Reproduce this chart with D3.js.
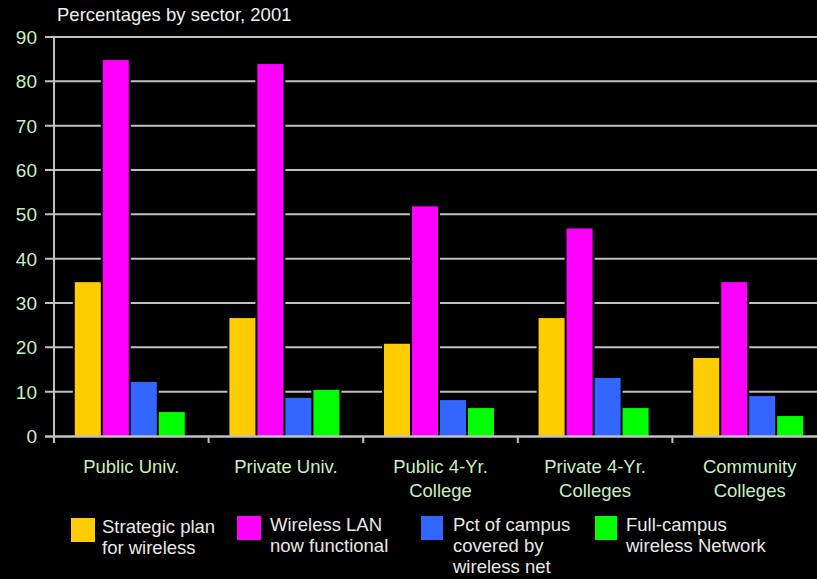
<!DOCTYPE html>
<html><head><meta charset="utf-8">
<script src="https://cdn.jsdelivr.net/npm/d3@7"></script>
<style>
html,body{margin:0;padding:0;background:#000;}
svg{display:block;font-family:"Liberation Sans",Arial,sans-serif;}
</style></head>
<body>
<script>
const categories = [["Public Univ."],["Private Univ."],["Public 4-Yr.","College"],["Private 4-Yr.","Colleges"],["Community","Colleges"]];
const seriesNames = [["Strategic plan","for wireless"],["Wireless LAN","now functional"],["Pct of campus","covered by","wireless net"],["Full-campus","wireless Network"]];
const seriesColors = ["#ffcc00","#ff00ff","#3366ff","#00ff00"];
const strategicPlan = [34.7, 26.6, 20.8, 26.6, 17.6];
const wirelessLAN   = [84.8, 83.9, 51.8, 46.8, 34.7];
const pctCovered    = [12.2, 8.6, 8.1, 13.1, 9.0];
const fullCampus    = [5.4, 10.4, 6.3, 6.3, 4.5];
const yTicks = [0,10,20,30,40,50,60,70,80,90];
const title = "Percentages by sector, 2001";

const values = [strategicPlan, wirelessLAN, pctCovered, fullCampus];
const W = 817, H = 579;
const svg = d3.select("body").append("svg").attr("width", W).attr("height", H);
svg.append("rect").attr("width", W).attr("height", H).attr("fill", "#000");

const catIdx = categories.map((d,i)=>i);
const x = d3.scaleBand().domain(catIdx).range([54, 54 + 5*154.6]);
const xs = d3.scaleBand().domain([0,1,2,3]).range([0,110]).paddingInner(1/14);
const y = d3.scaleLinear().domain([0,90]).range([436, 37]);

const grid = "#c0c0c0";
// gridlines
svg.append("g").selectAll("line").data(yTicks.filter(t=>t>0)).join("line")
  .attr("x1", 45).attr("x2", W).attr("y1", d=>y(d)).attr("y2", d=>y(d))
  .attr("stroke", grid).attr("stroke-width", 2);

// y labels
svg.append("g").selectAll("text").data(yTicks).join("text")
  .attr("x", 37).attr("y", d=>y(d)).attr("dy", "0.36em")
  .attr("text-anchor", "end").attr("fill", "#c8f0c0")
  .attr("font-size", 19).text(d=>d);

// bars
const groupOffset = (x.bandwidth() - 110)/2 - 1.5;
const barData = [];
values.forEach((arr, s) => arr.forEach((v, c) => barData.push({s, c, v})));
const bars = svg.append("g");
bars.selectAll("rect.halo").data(barData).join("rect").attr("class","halo")
  .attr("x", d => x(d.c) + groupOffset + xs(d.s) - 2)
  .attr("y", d => y(d.v) - 2)
  .attr("width", xs.bandwidth() + 4)
  .attr("height", d => y(0) - y(d.v) + 2)
  .attr("fill", "#000");
bars.selectAll("rect.bar").data(barData).join("rect").attr("class","bar")
  .attr("x", d => x(d.c) + groupOffset + xs(d.s))
  .attr("y", d => y(d.v))
  .attr("width", xs.bandwidth())
  .attr("height", d => y(0) - y(d.v))
  .attr("fill", d => seriesColors[d.s]);

// axes lines
svg.append("line").attr("x1", 45).attr("x2", W).attr("y1", y(0)+0.5).attr("y2", y(0)+0.5)
  .attr("stroke", grid).attr("stroke-width", 2.5);
svg.append("line").attr("x1", 54).attr("x2", 54).attr("y1", y(90)).attr("y2", y(0)+7)
  .attr("stroke", grid).attr("stroke-width", 2);
svg.append("g").selectAll("line").data(catIdx.slice(1)).join("line")
  .attr("x1", d=>x(d)).attr("x2", d=>x(d)).attr("y1", y(0)).attr("y2", y(0)+7)
  .attr("stroke", grid).attr("stroke-width", 2);

// category labels
const cl = svg.append("g").selectAll("text").data(categories).join("text")
  .attr("x", (d,i)=>x(i)+x.bandwidth()/2)
  .attr("y", 473).attr("text-anchor","middle").attr("fill","#c8f0c0")
  .attr("font-size", 18.5);
cl.selectAll("tspan").data(d=>d).join("tspan")
  .attr("x", function(){ return this.parentNode.getAttribute("x"); })
  .attr("dy", (d,i)=> i===0 ? 0 : 24).text(d=>d);

// title
svg.append("text").attr("x", 57).attr("y", 21).attr("fill", "#f0f0f0")
  .attr("font-size", 18.5).text(title);

// legend
const legX = [71, 237, 421, 595];
const legTX = [102, 270, 453, 626];
const lg = svg.append("g").selectAll("g").data(seriesNames).join("g");
lg.append("rect").attr("x", (d,i)=>legX[i]).attr("y", (d,i)=> i===0 ? 518 : 516)
  .attr("width", (d,i)=> i<2 ? 24 : 22).attr("height", 24)
  .attr("fill", (d,i)=>seriesColors[i]);
const lt = lg.append("text").attr("x", (d,i)=>legTX[i]).attr("y", (d,i)=> i===0 ? 533 : 531)
  .attr("fill", "#e8e8e8").attr("font-size", 18.5);
lt.selectAll("tspan").data(d=>d).join("tspan")
  .attr("x", function(){ return this.parentNode.getAttribute("x"); })
  .attr("dy", (d,i)=> i===0 ? 0 : 21).text(d=>d);
</script>
</body></html>
